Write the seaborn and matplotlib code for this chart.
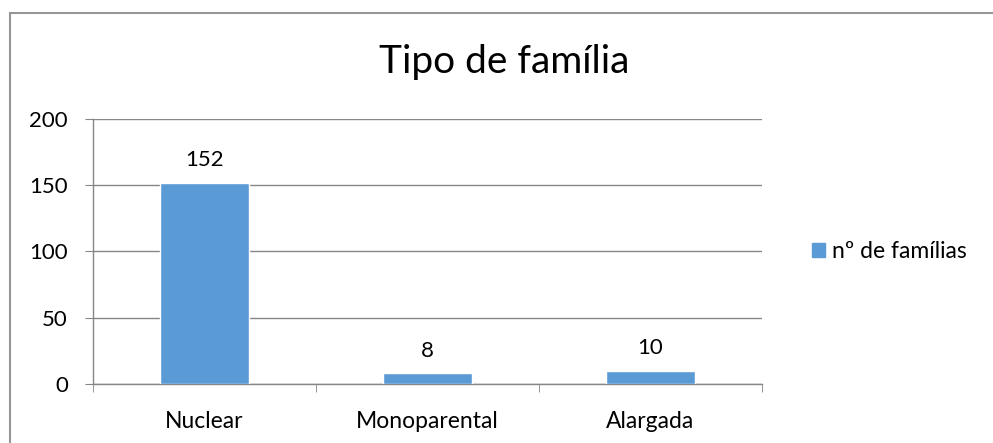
import pandas as pd
import seaborn as sns
import matplotlib.pyplot as plt
from matplotlib.patches import Rectangle, Patch

categorias = ['Nuclear', 'Monoparental', 'Alargada']
n_familias = [152, 8, 10]
serie = 'nº de famílias'
titulo = 'Tipo de família'

df = pd.DataFrame({'tipo': categorias, 'n': n_familias})

sns.set_style('white')
plt.rcParams['font.family'] = ['Lato', 'DejaVu Sans']
plt.rcParams['text.color'] = 'black'

fig = plt.figure(figsize=(9.93, 4.43), dpi=100)
ax = fig.add_axes([0.0937, 0.1332, 0.6733, 0.5982])

cor = '#5B9BD5'
sns.barplot(data=df, x='tipo', y='n', color=cor, width=0.4, saturation=1, ax=ax, zorder=3)

ax.set_ylim(0, 200)
ax.set_yticks([0, 50, 100, 150, 200])
ax.set_xlim(-0.5, 2.5)
ax.grid(axis='y', color='#868686', linewidth=1, zorder=0)
ax.set_xlabel('')
ax.set_ylabel('')
for s in ['top', 'right']:
    ax.spines[s].set_visible(False)
for s in ['left', 'bottom']:
    ax.spines[s].set_color('#868686')
    ax.spines[s].set_linewidth(1)

fs = 16
# y ticks outside, x ticks at category boundaries
ax.tick_params(axis='y', left=True, length=6, color='#868686', labelsize=fs,
               labelcolor='black', pad=12)
ax.tick_params(axis='x', bottom=False, labelsize=fs + 0.5, labelcolor='black', pad=16)
ax.set_xticks([-0.5, 0.5, 1.5, 2.5], minor=True)
ax.tick_params(axis='x', which='minor', bottom=True, length=6, color='#868686')

for c in ax.containers:
    ax.bar_label(c, labels=[str(v) for v in n_familias], padding=9, fontsize=fs)

fig.text(0.508, 0.835, titulo, ha='center', va='baseline', fontsize=28)

ax.legend(handles=[Patch(color=cor, label=serie)], loc='center left',
          bbox_to_anchor=(1.045, 0.5), frameon=False, fontsize=fs + 0.5,
          handlelength=0.55, handleheight=0.55, handletextpad=0.3)

fig.patches.append(Rectangle((10 / 993, -0.1), 1.2, 1 - 13 / 443 + 0.1,
                             transform=fig.transFigure, fill=False,
                             edgecolor='#969696', linewidth=1.5))

fig.savefig('out.png', dpi=100)
